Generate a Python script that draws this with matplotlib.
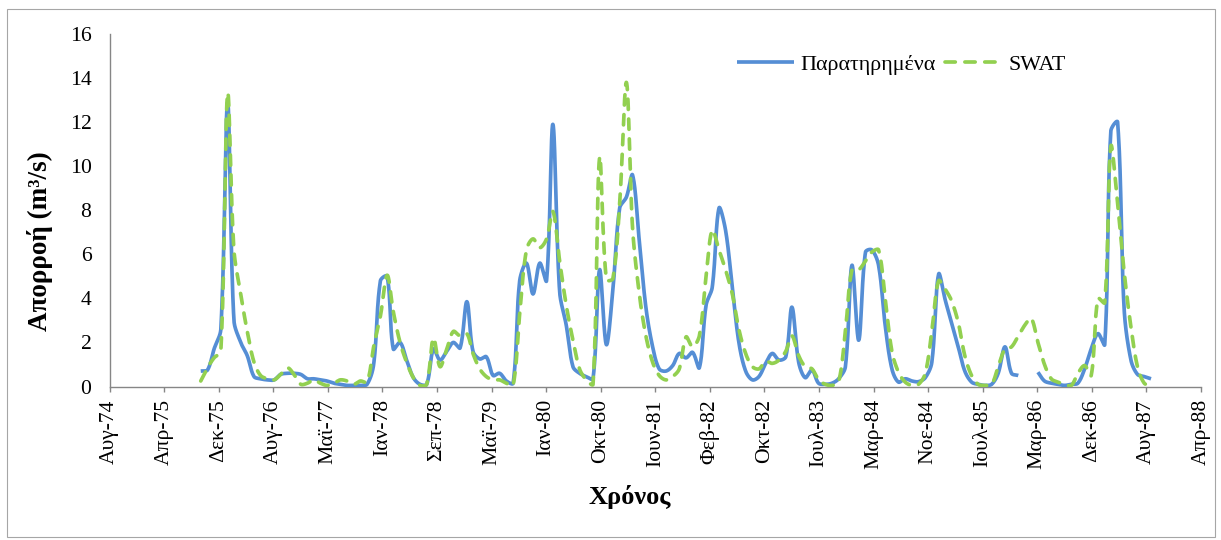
import numpy as np
import pandas as pd
import matplotlib
matplotlib.use("Agg")
import matplotlib.pyplot as plt
import matplotlib.dates as mdates
from matplotlib.lines import Line2D
from matplotlib.patches import Rectangle

plt.rcParams["font.family"] = ["Liberation Serif", "DejaVu Serif"]

# Monthly flow, hydrological years Oct 1975 - Sep 1987 (m3/s)
months = pd.date_range("1975-10-01", "1987-09-01", freq="MS")

observed = [
    0.7, 0.75, 1.7, 2.6, 12.9, 3.0, 2.0, 1.4, 0.45, 0.35, 0.3, 0.3,        # 1975-76
    0.55, 0.6, 0.6, 0.55, 0.35, 0.35, 0.3, 0.25, 0.15, 0.1, 0.05, 0.05,    # 1976-77
    0.05, 0.1, 1.0, 4.8, 5.0, 1.7, 2.0, 1.2, 0.4, 0.1, 0.1, 1.7,           # 1977-78
    1.2, 1.6, 2.0, 1.75, 3.85, 1.6, 1.25, 1.35, 0.5, 0.6, 0.25, 0.15,      # 1978-79
    4.8, 5.6, 4.2, 5.6, 4.8, 11.9, 4.3, 2.8, 0.9, 0.6, 0.45, 0.35,         # 1979-80
    5.3, 1.9, 4.4, 8.1, 8.6, 9.6, 6.6, 3.6, 1.8, 0.8, 0.7, 0.95,           # 1980-81
    1.5, 1.3, 1.55, 0.85, 3.7, 4.5, 8.1, 7.1, 4.5, 2.0, 0.7, 0.3,          # 1981-82
    0.45, 1.05, 1.5, 1.2, 1.35, 3.6, 1.1, 0.4, 0.75, 0.15, 0.1, 0.15,      # 1982-83
    0.35, 0.9, 5.5, 2.1, 6.1, 6.2, 5.5, 2.8, 0.8, 0.2, 0.35, 0.25,         # 1983-84
    0.22, 0.4, 1.1, 5.1, 3.9, 2.9, 1.8, 0.7, 0.2, 0.1, 0.05, 0.1,          # 1984-85
    0.6, 1.8, 0.6, 0.5, np.nan, np.nan, 0.65, 0.25, 0.15, 0.1, 0.05, 0.1,  # 1985-86
    0.15, 0.8, 1.7, 2.4, 1.9, 11.6, 12.0, 3.5, 1.2, 0.55, 0.45, 0.35,      # 1986-87
]

swat = [
    0.25, 0.85, 1.3, 1.6, 13.3, 6.2, 4.2, 2.5, 1.1, 0.5, 0.35, 0.3,        # 1975-76
    0.55, 0.85, 0.55, 0.1, 0.15, 0.3, 0.15, 0.05, 0.15, 0.3, 0.25, 0.1,    # 1976-77
    0.25, 0.2, 1.8, 3.2, 5.05, 3.4, 2.0, 1.1, 0.4, 0.05, 0.1, 2.2,         # 1977-78
    0.9, 1.7, 2.5, 2.3, 2.4, 1.5, 0.8, 0.45, 0.3, 0.3, 0.15, 0.05,         # 1978-79
    3.3, 6.2, 6.7, 6.3, 6.7, 7.95, 5.7, 3.7, 2.1, 0.8, 0.3, 0.1,           # 1979-80
    10.4, 4.85, 4.9, 8.3, 13.8, 7.2, 4.2, 2.3, 1.1, 0.5, 0.3, 0.45,        # 1980-81
    0.8, 2.25, 1.8, 2.3, 5.0, 7.1, 6.2, 5.3, 4.2, 2.6, 1.5, 0.9,           # 1981-82
    0.8, 1.15, 1.05, 1.2, 1.6, 2.3, 1.4, 0.9, 0.8, 0.3, 0.1, 0.05,         # 1982-83
    0.2, 2.5, 5.3, 5.3, 5.7, 6.1, 6.2, 4.0, 1.6, 0.65, 0.2, 0.05,          # 1983-84
    0.1, 0.6, 2.5, 4.8, 4.4, 3.9, 2.9, 1.4, 0.5, 0.1, 0.05, 0.1,           # 1984-85
    0.9, 1.7, 1.8, 2.3, 2.8, 3.1, 2.0, 1.0, 0.35, 0.2, 0.1, 0.05,          # 1985-86
    0.6, 0.95, 0.5, 4.0, 3.8, 10.9, 8.3, 5.2, 2.7, 0.9, 0.15, 0.05,        # 1986-87
]

series_names = ["Παρατηρημένα", "SWAT"]

tick_labels = [
    "Αυγ-74", "Απρ-75", "Δεκ-75", "Αυγ-76", "Μαϊ-77", "Ιαν-78", "Σεπ-78",
    "Μαϊ-79", "Ιαν-80", "Οκτ-80", "Ιουν-81", "Φεβ-82", "Οκτ-82", "Ιουλ-83",
    "Μαρ-84", "Νοε-84", "Ιουλ-85", "Μαρ-86", "Δεκ-86", "Αυγ-87", "Απρ-88",
]
axis_start = "1974-08-09"
tick_step_days = 250

BLUE = "#558ED5"
GREEN = "#92D050"
AXIS_GREY = "#868686"
LW = 2.65
DASH = (0, (2.8, 2.6))

W, H = 1221, 540
left, right, top, bottom = 109.5, 1201.0, 34.0, 386.5
Y_MAX = 16
N_TICKS = len(tick_labels)
SPAN_DAYS = tick_step_days * (N_TICKS - 1)
PX_PER_DAY = (right - left) / SPAN_DAYS
PX_PER_UNIT = (bottom - top) / Y_MAX


def smooth_runs(x, y, x_origin, n=30):
    """Bezier smoothing through each run of valid points.

    Control handles follow the neighbour chord and are shortened in
    proportion to the on-screen segment lengths, so tall spikes do not
    make the curve dip before or overshoot after them."""
    x = np.asarray(x, float)
    y = np.asarray(y, float)
    ok = ~np.isnan(y)
    runs, start = [], None
    for i, flag in enumerate(ok):
        if flag and start is None:
            start = i
        if (not flag or i == len(ok) - 1) and start is not None:
            end = i + 1 if flag else i
            runs.append((start, end))
            start = None
    curves = []
    t = np.linspace(0, 1, n, endpoint=False)[:, None]
    for a, b in runs:
        P = np.column_stack([(x[a:b] - x_origin) * PX_PER_DAY, y[a:b] * PX_PER_UNIT])
        m = len(P)
        if m < 2:
            curves.append(P)
            continue
        segs = []
        for i in range(m - 1):
            p1, p2 = P[i], P[i + 1]
            p0 = P[i - 1] if i > 0 else p1
            p3 = P[i + 2] if i + 2 < m else p2
            d01 = np.hypot(*(p1 - p0))
            d12 = np.hypot(*(p2 - p1))
            d23 = np.hypot(*(p3 - p2))
            f1 = d12 / (d01 + d12) if d01 + d12 > 0 else 0.0
            f2 = d12 / (d12 + d23) if d12 + d23 > 0 else 0.0
            c1 = p1 + (p2 - p0) * f1 / 3.0
            c2 = p2 - (p3 - p1) * f2 / 3.0
            segs.append((1 - t) ** 3 * p1 + 3 * (1 - t) ** 2 * t * c1
                        + 3 * (1 - t) * t ** 2 * c2 + t ** 3 * p2)
        segs.append(P[-1][None, :])
        C = np.vstack(segs)
        curves.append(np.column_stack([C[:, 0] / PX_PER_DAY + x_origin,
                                       C[:, 1] / PX_PER_UNIT]))
    return curves


fig = plt.figure(figsize=(W / 100, H / 100), dpi=100)
fig.patch.set_facecolor("white")
ax = fig.add_axes([left / W, 1 - bottom / H, (right - left) / W, (bottom - top) / H])

xnum = mdates.date2num(months.to_pydatetime())
x0 = mdates.date2num(pd.Timestamp(axis_start).to_pydatetime())

for c in smooth_runs(xnum, observed, x0):
    ax.plot(c[:, 0], c[:, 1], color=BLUE, lw=LW, solid_capstyle="butt",
            solid_joinstyle="round", zorder=3)
for c in smooth_runs(xnum, swat, x0):
    ax.plot(c[:, 0], c[:, 1], color=GREEN, lw=LW, linestyle=DASH,
            dash_capstyle="round", dash_joinstyle="round", zorder=4)

ax.set_xlim(x0, x0 + SPAN_DAYS)
ax.set_ylim(0, Y_MAX)
ax.set_xticks([x0 + tick_step_days * k for k in range(N_TICKS)])
ax.set_xticklabels(tick_labels, rotation=90, fontsize=15.6)
ax.set_yticks(range(0, Y_MAX + 1, 2))
ax.set_yticklabels([str(v) for v in range(0, Y_MAX + 1, 2)], fontsize=15.6)

for side in ("top", "right"):
    ax.spines[side].set_visible(False)
for side in ("left", "bottom"):
    ax.spines[side].set_color(AXIS_GREY)
    ax.spines[side].set_linewidth(1.0)
ax.tick_params(axis="x", direction="out", length=3.6, width=1.0,
               color=AXIS_GREY, pad=5.5, labelcolor="black")
ax.tick_params(axis="y", length=0, pad=13.0, labelcolor="black")

fig.text(40 / W, 1 - 241 / H, "Απορροή (m³/s)", rotation=90, ha="center",
         va="center", fontsize=19.5, fontweight="bold")
fig.text(630 / W, 1 - 497 / H, "Χρόνος", ha="center", va="center",
         fontsize=19, fontweight="bold")

handles = [
    Line2D([], [], color=BLUE, lw=LW, solid_capstyle="butt"),
    Line2D([], [], color=GREEN, lw=LW, linestyle=DASH, dash_capstyle="round"),
]
fig.legend(handles, series_names, loc="center left",
           bbox_to_anchor=(737 / W, 1 - 65 / H), ncol=2, frameon=False,
           fontsize=15.8, handlelength=2.6, handletextpad=0.3,
           columnspacing=0.4, borderpad=0, borderaxespad=0)

fig.add_artist(Rectangle((7.5 / W, 3 / H), (1215 - 7.5) / W, (537 - 8.5) / H,
                         transform=fig.transFigure, fill=False,
                         edgecolor="#A6A6A6", lw=0.8))

fig.savefig("out.png", dpi=100, facecolor="white")
